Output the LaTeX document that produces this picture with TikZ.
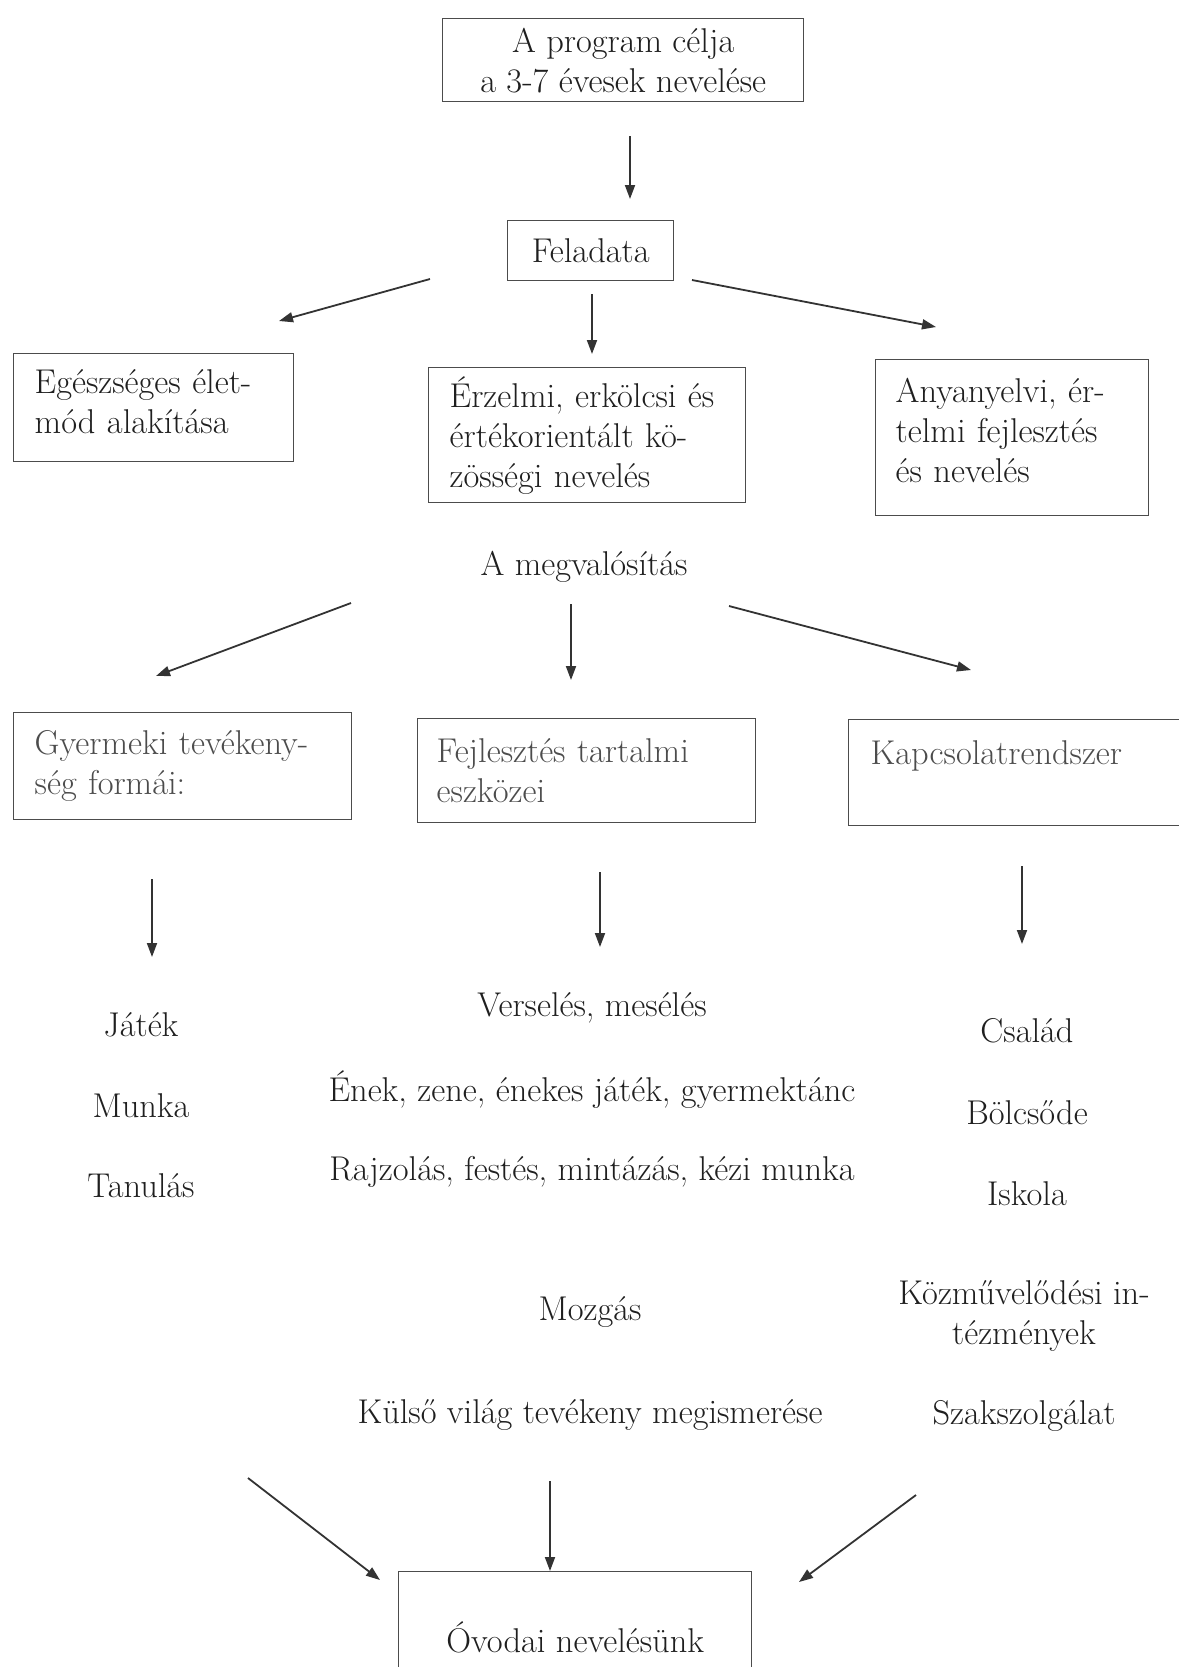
\documentclass[tikz,border=0pt]{standalone}
\usepackage{fontspec}
\usetikzlibrary{arrows.meta}
\begin{document}
\begin{tikzpicture}[x=0.5pt,y=-0.5pt,
  every node/.style={font=\fontsize{17.2}{20}\selectfont, text=black!88},
  box/.style={draw=black!70, line width=0.7pt, anchor=north west, inner ysep=0pt, align=left},
  cbox/.style={draw=black!70, line width=0.7pt, anchor=north west, inner sep=0pt, align=center},
  graytext/.style={text=black!70},
  arr/.style={draw=black!80, line width=0.9pt, -{Triangle[length=7pt,width=5pt]}},
  txt/.style={inner sep=0pt, anchor=center}]
\useasboundingbox (0,0) rectangle (1179,1667);
\clip (0,0) rectangle (1179,1667);

% top boxes
\node[cbox, minimum width=180.5pt, minimum height=41.5pt] (goal) at (442,18) {A program célja\\a 3-7 évesek nevelése};
\node[cbox, minimum width=83pt, minimum height=30pt] (feladata) at (507,220) {Feladata};

\node[box, minimum height=54pt, text width=119pt, inner xsep=10.5pt] (egesz) at (13,353)
  {Egészséges élet-\\mód alakítása\\[-13.6pt]\mbox{}};
\node[box, minimum height=67.5pt, text width=137.5pt, inner xsep=10.5pt] (erzelmi) at (428,367)
  {Érzelmi, erkölcsi és\\értékorientált kö-\\zösségi nevelés};
\node[box, minimum height=78pt, text width=116.5pt, inner xsep=10pt] (anya) at (875,359)
  {Anyanyelvi, ér-\\telmi fejlesztés\\és nevelés\\[-12.6pt]\mbox{}};

\node[txt] (megval) at (584,567) {A megvalósítás};

\node[box, graytext, minimum height=53.5pt, text width=148pt, inner xsep=10.5pt] (gyermeki) at (13,712)
  {Gyermeki tevékeny-\\ség formái:};
\node[box, graytext, minimum height=52pt, text width=150pt, inner xsep=9.5pt] (fejl) at (417,718)
  {Fejlesztés tartalmi\\eszközei};
\node[box, graytext, minimum height=53pt, text width=154pt, inner xsep=11pt] (kapcs) at (848,719)
  {Kapcsolatrendszer\\\mbox{}};

% lists
\node[txt] (jatek) at (141,1025) {Játék};
\node[txt] (munka) at (141,1106) {Munka};
\node[txt] (tanulas) at (141,1186) {Tanulás};

\node[txt] (verseles) at (592,1008) {Verselés, mesélés};
\node[txt] (enek) at (592,1090) {Ének, zene, énekes játék, gyermektánc};
\node[txt] (rajz) at (592,1172) {Rajzolás, festés, mintázás, kézi munka};
\node[txt] (mozgas) at (590,1312) {Mozgás};
\node[txt] (kulso) at (590,1415) {Külső világ tevékeny megismerése};

\node[txt] (csalad) at (1027,1031) {Család};
\node[txt] (bolcsode) at (1027,1113) {Bölcsőde};
\node[txt] (iskola) at (1027,1194) {Iskola};
\node[txt, align=center] (kozm) at (1024,1316) {Közművelődési in-\\tézmények};
\node[txt] (szak) at (1024,1416) {Szakszolgálat};

\node[cbox, minimum width=176.5pt, minimum height=66pt] (ovodai) at (398,1571) {Óvodai nevelésünk};

% arrow end points
\coordinate (a1s) at (630,136);  \coordinate (a1e) at (630,199);
\coordinate (a2s) at (430,279);  \coordinate (a2e) at (279,321);
\coordinate (a3s) at (592,294);  \coordinate (a3e) at (592,354);
\coordinate (a4s) at (692,280);  \coordinate (a4e) at (936,327);
\coordinate (b1s) at (351,603);  \coordinate (b1e) at (156,676);
\coordinate (b2s) at (571,604);  \coordinate (b2e) at (571,680);
\coordinate (b3s) at (729,606);  \coordinate (b3e) at (971,670);
\coordinate (c1s) at (152,879);  \coordinate (c1e) at (152,957);
\coordinate (c2s) at (600,872);  \coordinate (c2e) at (600,947);
\coordinate (c3s) at (1022,866); \coordinate (c3e) at (1022,944);
\coordinate (d1s) at (248,1478); \coordinate (d1e) at (380,1580);
\coordinate (d2s) at (550,1481);
\coordinate (d3s) at (916,1495); \coordinate (d3e) at (799,1582);

\draw[arr] (a1s) -- (a1e);
\draw[arr] (a2s) -- (a2e);
\draw[arr] (a3s) -- (a3e);
\draw[arr] (a4s) -- (a4e);
\draw[arr] (b1s) -- (b1e);
\draw[arr] (b2s) -- (b2e);
\draw[arr] (b3s) -- (b3e);
\draw[arr] (c1s) -- (c1e);
\draw[arr] (c2s) -- (c2e);
\draw[arr] (c3s) -- (c3e);
\draw[arr] (d1s) -- (d1e);
\draw[arr] (d2s) -- (d2s |- ovodai.north);
\draw[arr] (d3s) -- (d3e);
\end{tikzpicture}
\end{document}
